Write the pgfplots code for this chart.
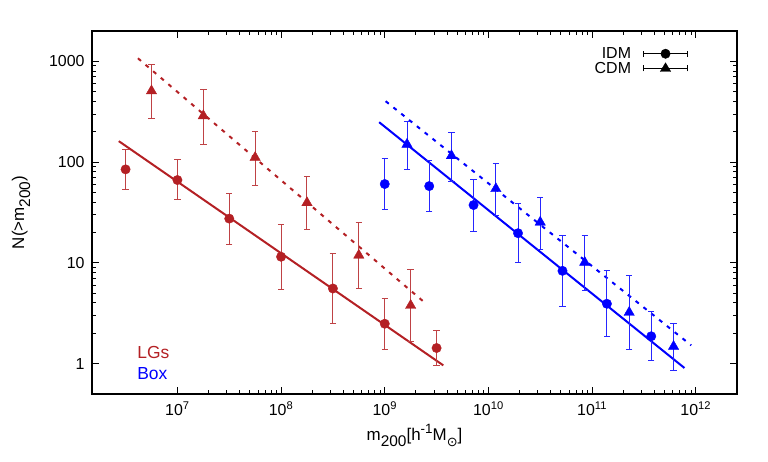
\documentclass[border=0pt]{standalone}
\usepackage{fontspec}
\setmainfont{Liberation Sans}
\newfontfamily\dejavu{DejaVu Sans}
\usepackage{pgfplots}
\usepackage{pgfplotstable}
\pgfplotsset{compat=1.18}
\definecolor{lgred}{RGB}{180,32,36}
\definecolor{boxblue}{RGB}{0,0,255}
\newcommand{\fsz}{\fontsize{16}{19}\selectfont}
\newcommand{\lsz}{\fontsize{17}{20}\selectfont}
\newcommand{\lsub}[1]{\raisebox{-6bp}{\fontsize{15.5}{16}\selectfont #1}}
\newcommand{\lsup}[1]{\raisebox{6.5bp}{\fontsize{13.5}{14}\selectfont #1}}

\pgfplotstableread{
x y hi lo
3.162e6 84.7 133.7 53.7
1.0e7 66.4 105.4 42.1
3.162e7 27.5 49.3 15.2
1.0e8 11.5 24.3 5.41
3.162e8 5.57 12.3 2.53
1.0e9 2.49 4.45 1.39
3.162e9 1.43 2.14 0.95
}\redidm
\pgfplotstableread{
x y hi lo
5.62e6 508 927 271
1.778e7 288 525 151
5.62e7 111 200 58.7
1.778e8 39.5 71.6 21.2
5.62e8 11.9 25.1 5.57
1.778e9 3.78 8.53 1.66
}\redcdm
\pgfplotstableread{
x y hi lo
1.0e9 60.6 109.6 34.0
2.685e9 57.8 103.0 32.2
7.19e9 37.5 67.5 20.7
1.93e10 19.7 38.6 10.1
5.18e10 8.34 18.8 3.72
1.39e11 3.93 8.39 1.87
3.72e11 1.87 3.30 1.07
}\blueidm
\pgfplotstableread{
x y hi lo
1.64e9 150 254.7 84.7
4.40e9 115.6 196.8 64.9
1.18e10 54.4 97.7 29.2
3.16e10 25.3 45.0 13.7
8.49e10 10.1 18.9 5.32
2.28e11 3.22 7.43 1.39
6.11e11 1.48 2.51 0.847
}\bluecdm

\begin{document}
\begin{tikzpicture}[font=\fsz]
\useasboundingbox (-92bp,-68bp) rectangle (676bp,394bp);
\begin{axis}[
  at={(0,0)}, anchor=south west, scale only axis,
  width=645bp, height=363bp,
  xmode=log, ymode=log,
  xmin=1.5e6, xmax=2.5e12, ymin=0.5, ymax=2000,
  xtick={1e7,1e8,1e9,1e10,1e11,1e12},
  xticklabels={10\textsuperscript{7},10\textsuperscript{8},10\textsuperscript{9},10\textsuperscript{10},10\textsuperscript{11},10\textsuperscript{12}},
  ytick={1,10,100,1000},
  yticklabels={1,10,100,1000},
  tick label style={font=\fsz},
  xticklabel style={yshift=-4bp},
  yticklabel style={xshift=-4bp},
  axis line style={line width=1.2bp},
  every tick/.style={black, line width=1bp},
  major tick length=7bp, minor tick length=4bp,
  xlabel={m\lsub{200}[h\lsup{-1}M\lsub{\dejavu\fontsize{13}{14}\selectfont ⊙}]},
  ylabel={N(>m\lsub{200})},
  every axis x label/.style={at={(axis description cs:0.5,-0.127)}, anchor=base, font=\lsz},
  every axis y label/.style={at={(axis description cs:-0.1054,0.5)}, rotate=90, anchor=base, font=\lsz},
  legend style={draw=none, fill=none, at={(axis description cs:0.929,0.966)}, anchor=north east, row sep=-2bp, column sep=10bp, font=\fsz},
  legend plot pos=right,
  legend cell align=right,
  error bars/y dir=both, error bars/y explicit,
]
\addlegendimage{legend image code/.code={
  \draw[black, line width=1bp] (0bp,0bp) -- (44bp,0bp);
  \draw[black, line width=1bp] (0bp,-3bp) -- (0bp,3bp) (44bp,-3bp) -- (44bp,3bp);
  \fill[black] (22bp,0bp) circle (4.7bp);
}}
\addlegendentry{IDM}
\addlegendimage{legend image code/.code={
  \draw[black, line width=1bp] (0bp,0bp) -- (44bp,0bp);
  \draw[black, line width=1bp] (0bp,-3bp) -- (0bp,3bp) (44bp,-3bp) -- (44bp,3bp);
  \fill[black] (22bp,5.5bp) -- (16.8bp,-3.2bp) -- (27.2bp,-3.2bp) -- cycle;
}}
\addlegendentry{CDM}

% red lines
\addplot[lgred, line width=2bp, forget plot] coordinates {(2.72e6,161.4) (3.67e9,0.962)};
\addplot[lgred, line width=2bp, dash pattern=on 4bp off 6bp, forget plot] coordinates {(4.16e6,1072) (2.49e9,3.95)};
% blue lines
\addplot[boxblue, line width=2bp, forget plot] coordinates {(8.83e8,248.9) (7.78e11,0.906)};
\addplot[boxblue, line width=2bp, dash pattern=on 4bp off 6bp, forget plot] coordinates {(1.02e9,401.8) (9.04e11,1.52)};

% red points
\addplot[lgred, only marks, mark=*, mark size=4.7bp, forget plot,
  error bars/error bar style={line width=1bp, lgred!85},
  error bars/error mark options={rotate=90, mark size=3.2bp, line width=1bp, lgred!85}]
  table[x=x, y=y, y error plus expr=\thisrow{hi}-\thisrow{y}, y error minus expr=\thisrow{y}-\thisrow{lo}] {\redidm};
\addplot[lgred, only marks, mark=triangle*, mark size=6bp, forget plot,
  error bars/error bar style={line width=1bp, lgred!85},
  error bars/error mark options={rotate=90, mark size=3.2bp, line width=1bp, lgred!85}]
  table[x=x, y=y, y error plus expr=\thisrow{hi}-\thisrow{y}, y error minus expr=\thisrow{y}-\thisrow{lo}] {\redcdm};
% blue points
\addplot[boxblue, only marks, mark=*, mark size=4.7bp, forget plot,
  error bars/error bar style={line width=1bp, boxblue!85},
  error bars/error mark options={rotate=90, mark size=3.2bp, line width=1bp, boxblue!85}]
  table[x=x, y=y, y error plus expr=\thisrow{hi}-\thisrow{y}, y error minus expr=\thisrow{y}-\thisrow{lo}] {\blueidm};
\addplot[boxblue, only marks, mark=triangle*, mark size=6bp, forget plot,
  error bars/error bar style={line width=1bp, boxblue!85},
  error bars/error mark options={rotate=90, mark size=3.2bp, line width=1bp, boxblue!85}]
  table[x=x, y=y, y error plus expr=\thisrow{hi}-\thisrow{y}, y error minus expr=\thisrow{y}-\thisrow{lo}] {\bluecdm};

\node[anchor=west, inner sep=0pt, text=lgred, font=\fontsize{17.5}{20}\selectfont] at (axis cs:4.09e6,1.285) {LGs};
\node[anchor=west, inner sep=0pt, text=boxblue, font=\fontsize{17.5}{20}\selectfont] at (axis cs:4.09e6,0.796) {Box};
\end{axis}
\end{tikzpicture}
\end{document}
